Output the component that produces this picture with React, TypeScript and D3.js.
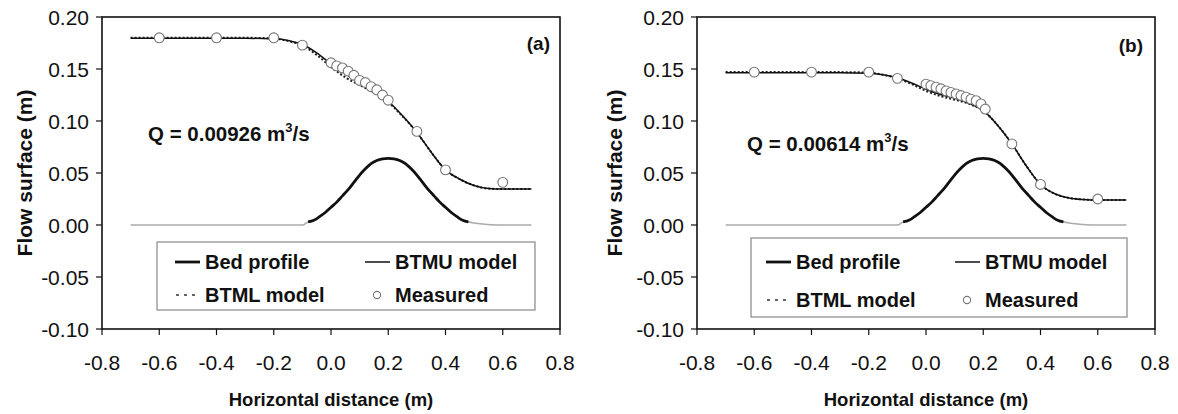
import React from "react";
import * as d3 from "d3";

// axis ticks
const xTicks = [-0.8, -0.6, -0.4, -0.2, 0, 0.2, 0.4, 0.6, 0.8];
const yTicks = [-0.1, -0.05, 0, 0.05, 0.1, 0.15, 0.2];

// bed profile (same weir in both runs)
const bedX = [-0.7, -0.5, -0.3, -0.1, -0.08, -0.06, -0.04, -0.02, 0.0, 0.02, 0.04, 0.06, 0.08, 0.1, 0.12, 0.14, 0.16, 0.18, 0.2, 0.22, 0.24, 0.26, 0.28, 0.3, 0.32, 0.34, 0.36, 0.38, 0.4, 0.42, 0.44, 0.46, 0.48, 0.5, 0.53, 0.56, 0.6, 0.7];
const bedY = [0, 0, 0, 0, 0.003, 0.0045, 0.008, 0.012, 0.017, 0.022, 0.028, 0.034, 0.041, 0.048, 0.054, 0.059, 0.062, 0.0635, 0.064, 0.0635, 0.062, 0.059, 0.054, 0.048, 0.041, 0.034, 0.028, 0.022, 0.017, 0.012, 0.008, 0.0045, 0.003, 0.002, 0.001, 0.0003, 0, 0];

// model x stations
const modelX = [-0.7, -0.6, -0.5, -0.4, -0.3, -0.2, -0.15, -0.1, -0.05, 0.0, 0.05, 0.1, 0.15, 0.2, 0.25, 0.3, 0.35, 0.4, 0.45, 0.5, 0.55, 0.6, 0.65, 0.7];

// (a) Q = 0.00926
const btmuA = [0.1795, 0.1795, 0.1795, 0.1795, 0.1795, 0.179, 0.1775, 0.1735, 0.1655, 0.155, 0.1455, 0.137, 0.129, 0.119, 0.105, 0.089, 0.07, 0.053, 0.044, 0.038, 0.035, 0.0345, 0.0345, 0.0345];
const btmlA = [0.18, 0.18, 0.18, 0.18, 0.18, 0.1793, 0.177, 0.1725, 0.1635, 0.152, 0.142, 0.1345, 0.1275, 0.118, 0.1045, 0.089, 0.07, 0.053, 0.044, 0.038, 0.035, 0.0345, 0.0345, 0.0345];
const measXA = [-0.6, -0.4, -0.2, -0.1, 0.0, 0.02, 0.04, 0.06, 0.08, 0.1, 0.12, 0.14, 0.16, 0.18, 0.2, 0.3, 0.4, 0.6];
const measYA = [0.18, 0.18, 0.18, 0.173, 0.156, 0.153, 0.151, 0.148, 0.144, 0.139, 0.137, 0.133, 0.13, 0.125, 0.12, 0.09, 0.053, 0.041];

// (b) Q = 0.00614
const btmuB = [0.1465, 0.1465, 0.1465, 0.1465, 0.1465, 0.146, 0.1445, 0.1415, 0.1365, 0.1305, 0.1255, 0.122, 0.117, 0.11, 0.096, 0.078, 0.057, 0.039, 0.03, 0.026, 0.0245, 0.024, 0.024, 0.024];
const btmlB = [0.147, 0.147, 0.147, 0.147, 0.147, 0.1465, 0.1445, 0.141, 0.1355, 0.129, 0.124, 0.1205, 0.1165, 0.11, 0.096, 0.078, 0.057, 0.039, 0.03, 0.026, 0.0245, 0.024, 0.024, 0.024];
const measXB = [-0.6, -0.4, -0.2, -0.1, 0.0, 0.017, 0.035, 0.052, 0.07, 0.087, 0.105, 0.122, 0.14, 0.157, 0.175, 0.192, 0.207, 0.3, 0.4, 0.6];
const measYB = [0.147, 0.147, 0.147, 0.141, 0.1355, 0.134, 0.1325, 0.131, 0.129, 0.1275, 0.126, 0.1245, 0.123, 0.121, 0.1195, 0.1165, 0.1115, 0.078, 0.039, 0.025];

const FONT = "'Liberation Sans', Arial, sans-serif";
const fmt = d3.formatLocale({ decimal: ".", thousands: ",", grouping: [3], currency: ["", ""], minus: "-" });
const fx = fmt.format(".1f");
const fy = fmt.format(".2f");

type PanelProps = {
  left: number;
  right: number;
  top: number;
  bottom: number;
  btmu: number[];
  btml: number[];
  measX: number[];
  measY: number[];
  q: string;
  qPos: [number, number];
  tag: string;
  tagPos: [number, number];
  titleX: number;
  legend: { x0: number; x1: number; y0: number; y1: number; r1: number; r2: number; c1: number; c2: number };
};

const Panel = (p: PanelProps) => {
  const x = d3.scaleLinear().domain([-0.8, 0.8]).range([p.left, p.right]);
  const y = d3.scaleLinear().domain([-0.1, 0.2]).range([p.bottom, p.top]);
  const line = d3
    .line<[number, number]>()
    .x((d) => x(d[0]))
    .y((d) => y(d[1]))
    .curve(d3.curveMonotoneX);

  const bed: [number, number][] = bedX.map((v, i) => [v, bedY[i]]);
  const hump = bed.filter((d) => d[0] >= -0.08 && d[0] <= 0.48);
  const upper: [number, number][] = modelX.map((v, i) => [v, p.btmu[i]]);
  const lower: [number, number][] = modelX.map((v, i) => [v, p.btml[i]]);
  const lg = p.legend;

  return (
    <g fontFamily={FONT}>
      {/* frame */}
      <rect x={p.left} y={p.top} width={p.right - p.left} height={p.bottom - p.top} fill="none" stroke="#111" strokeWidth={1.6} />

      {yTicks.map((t) => (
        <g key={"y" + t}>
          <line x1={p.left - 6} x2={p.left} y1={y(t)} y2={y(t)} stroke="#111" strokeWidth={1.2} />
          <text x={p.left - 13} y={y(t)} dy="0.36em" textAnchor="end" fontSize={21} fill="#111">
            {fy(t)}
          </text>
        </g>
      ))}
      {xTicks.map((t) => (
        <g key={"x" + t}>
          <line x1={x(t)} x2={x(t)} y1={p.bottom} y2={p.bottom + 6} stroke="#111" strokeWidth={1.2} />
          <text x={x(t)} y={p.bottom + 41} textAnchor="middle" fontSize={21} fill="#111">
            {fx(t)}
          </text>
        </g>
      ))}

      <text x={(p.left + p.right) / 2} y={406} textAnchor="middle" fontSize={18.5} fontWeight="bold" fill="#111">
        Horizontal distance (m)
      </text>
      <text
        transform={`translate(${p.titleX},${(p.top + p.bottom) / 2}) rotate(-90)`}
        textAnchor="middle"
        fontSize={21}
        fontWeight="bold"
        fill="#111"
      >
        Flow surface (m)
      </text>

      {/* bed profile */}
      <path d={line(bed) ?? ""} fill="none" stroke="#aaa" strokeWidth={1.6} />
      <path d={line(hump) ?? ""} fill="none" stroke="#111" strokeWidth={2.8} />

      {/* models */}
      <path d={line(lower) ?? ""} fill="none" stroke="#222" strokeWidth={2} strokeDasharray="2,2" />
      <path d={line(upper) ?? ""} fill="none" stroke="#111" strokeWidth={1.5} />

      {p.measX.map((v, i) => (
        <circle key={i} cx={x(v)} cy={y(p.measY[i])} r={4.9} fill="#fff" stroke="#777" strokeWidth={1.1} />
      ))}

      <text x={p.qPos[0]} y={p.qPos[1]} fontSize={20.5} fontWeight="bold" fill="#111">
        {p.q}
        <tspan fontSize={13} dy={-9}>3</tspan>
        <tspan dy={9}>/s</tspan>
      </text>
      <text x={p.tagPos[0]} y={p.tagPos[1]} textAnchor="end" fontSize={19} fontWeight="bold" fill="#111">
        {p.tag}
      </text>

      {/* legend */}
      <rect x={lg.x0} y={lg.y0} width={lg.x1 - lg.x0} height={lg.y1 - lg.y0} fill="#fff" stroke="#888" strokeWidth={1.2} />
      <line x1={lg.c1} x2={lg.c1 + 25} y1={lg.r1} y2={lg.r1} stroke="#111" strokeWidth={2.8} />
      <text x={lg.c1 + 30} y={lg.r1} dy="0.36em" fontSize={20} fontWeight="bold" fill="#111">Bed profile</text>
      <line x1={lg.c2} x2={lg.c2 + 25} y1={lg.r1} y2={lg.r1} stroke="#111" strokeWidth={1.5} />
      <text x={lg.c2 + 30} y={lg.r1} dy="0.36em" fontSize={20} fontWeight="bold" fill="#111">BTMU model</text>
      <line x1={lg.c1 + 1} x2={lg.c1 + 25} y1={lg.r2} y2={lg.r2} stroke="#333" strokeWidth={1.5} strokeDasharray="3,5" />
      <text x={lg.c1 + 30} y={lg.r2} dy="0.36em" fontSize={20} fontWeight="bold" fill="#111">BTML model</text>
      <circle cx={lg.c2 + 12} cy={lg.r2} r={3.6} fill="#fff" stroke="#777" strokeWidth={1.1} />
      <text x={lg.c2 + 30} y={lg.r2} dy="0.36em" fontSize={20} fontWeight="bold" fill="#111">Measured</text>
    </g>
  );
};

export default function App() {
  return (
    <svg width={1178} height={414} style={{ position: "absolute", left: 0, top: 0, background: "#fff" }}>
      <Panel
        left={102}
        right={560}
        top={17}
        bottom={329}
        btmu={btmuA}
        btml={btmlA}
        measX={measXA}
        measY={measYA}
        q="Q = 0.00926 m"
        qPos={[148, 141]}
        tag="(a)"
        tagPos={[550, 50]}
        titleX={32}
        legend={{ x0: 157, x1: 535, y0: 242, y1: 310, r1: 262, r2: 295, c1: 175, c2: 365 }}
      />
      <Panel
        left={697}
        right={1155}
        top={17}
        bottom={329}
        btmu={btmuB}
        btml={btmlB}
        measX={measXB}
        measY={measYB}
        q="Q = 0.00614 m"
        qPos={[747, 151]}
        tag="(b)"
        tagPos={[1143, 52]}
        titleX={622}
        legend={{ x0: 751, x1: 1127, y0: 238, y1: 317, r1: 262, r2: 300, c1: 766, c2: 955 }}
      />
    </svg>
  );
}
